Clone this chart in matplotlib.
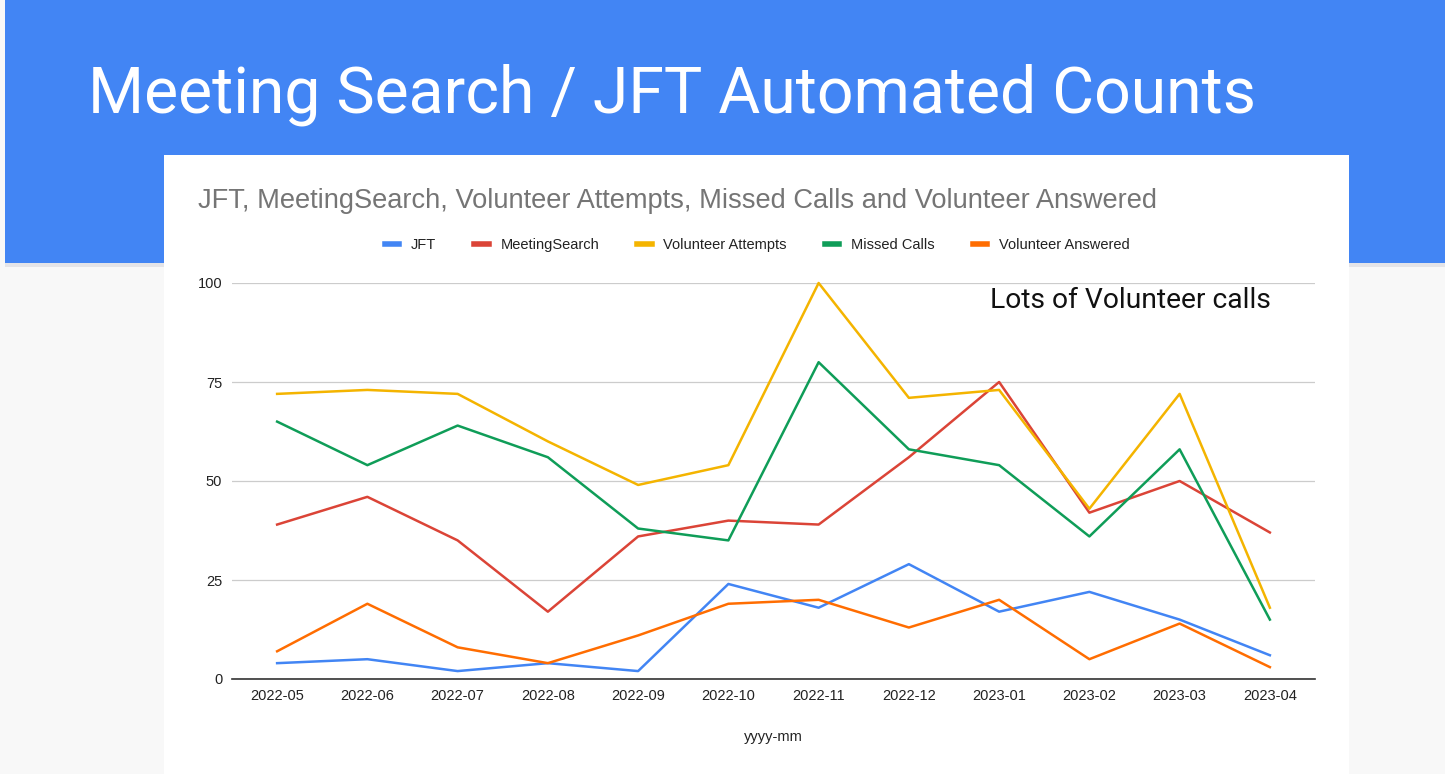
import matplotlib.pyplot as plt
from matplotlib.patches import Rectangle

months = ["2022-05", "2022-06", "2022-07", "2022-08", "2022-09", "2022-10",
          "2022-11", "2022-12", "2023-01", "2023-02", "2023-03", "2023-04"]
jft = [4, 5, 2, 4, 2, 24, 18, 29, 17, 22, 15, 6]
meeting_search = [39, 46, 35, 17, 36, 40, 39, 56, 75, 42, 50, 37]
volunteer_attempts = [72, 73, 72, 60, 49, 54, 100, 71, 73, 43, 72, 18]
missed_calls = [65, 54, 64, 56, 38, 35, 80, 58, 54, 36, 58, 15]
volunteer_answered = [7, 19, 8, 4, 11, 19, 20, 13, 20, 5, 14, 3]
yticks = [0, 25, 50, 75, 100]

series = [
    ("JFT", jft, "#4285f4"),
    ("MeetingSearch", meeting_search, "#db4437"),
    ("Volunteer Attempts", volunteer_attempts, "#f4b400"),
    ("Missed Calls", missed_calls, "#0f9d58"),
    ("Volunteer Answered", volunteer_answered, "#ff6d01"),
]

W, H = 1452, 774
fig = plt.figure(figsize=(W / 100, H / 100), dpi=100)
fig.patch.set_facecolor("#f8f8f8")

def px(x, y, w, h):
    return (x / W, 1 - (y + h) / H, w / W, h / H)

# blue header band
bx, by, bw, bh = px(5, 0, 1440, 263)
fig.patches.append(Rectangle((bx, by), bw, bh, transform=fig.transFigure,
                             facecolor="#4285f4", edgecolor="none", zorder=0))
# subtle shadow under band
sx, sy, sw, sh = px(5, 263, 1440, 4)
fig.patches.append(Rectangle((sx, sy), sw, sh, transform=fig.transFigure,
                             facecolor="#e4e4e8", edgecolor="none", zorder=0))
# right white strip
rx, ry, rw, rh = px(1445, 0, 7, 774)
fig.patches.append(Rectangle((rx, ry), rw, rh, transform=fig.transFigure,
                             facecolor="white", edgecolor="none", zorder=0))
# white chart panel
cx, cy, cw, ch = px(164, 155, 1185, 619)
fig.patches.append(Rectangle((cx, cy), cw, ch, transform=fig.transFigure,
                             facecolor="white", edgecolor="none", zorder=1))

fig.text(88 / W, 1 - 113 / H, "Meeting Search / JFT Automated Counts",
         color="white", fontsize=46.4, family="Roboto", va="baseline", ha="left")

fig.text(198 / W, 1 - 201 / H,
         "JFT, MeetingSearch, Volunteer Attempts, Missed Calls and Volunteer Answered",
         color="#757575", fontsize=19.6, family="Liberation Sans", va="center", ha="left")

ax = fig.add_axes([232 / W, 1 - 679 / H, (1315 - 232) / W, (679 - 283) / H])
ax.set_facecolor("none")
ax.set_zorder(2)
x = list(range(len(months)))
for name, vals, col in series:
    ax.plot(x, vals, color=col, lw=1.8, label=name, clip_on=False, zorder=3)

ax.set_xlim(-0.5, len(months) - 0.5)
ax.set_ylim(0, 100)
ax.set_yticks(yticks)
ax.set_xticks(x)
ax.set_xticklabels(months)
for s in ["top", "right", "left"]:
    ax.spines[s].set_visible(False)
ax.spines["bottom"].set_color("#333333")
ax.spines["bottom"].set_linewidth(1.2)
ax.spines["bottom"].set_zorder(4)
ax.grid(axis="y", color="#cccccc", lw=0.9)
ax.set_axisbelow(True)
ax.tick_params(axis="both", length=0, labelsize=10.5, colors="#222222")
ax.tick_params(axis="y", pad=7)
ax.tick_params(axis="x", pad=7)
for lab in ax.get_xticklabels() + ax.get_yticklabels():
    lab.set_family("Liberation Sans")
ax.set_xlabel("yyyy-mm", fontsize=10.5, color="#222222", family="Liberation Sans", labelpad=20)

leg = ax.legend(loc="lower center", bbox_to_anchor=(0.485, 1.045), ncol=5, frameon=False,
                prop={"family": "Liberation Sans", "size": 10.5}, handlelength=1.0,
                handletextpad=0.8, columnspacing=2.6)
for t in leg.get_texts():
    t.set_color("#222222")
for h in leg.legend_handles:
    h.set_linewidth(4)

fig.text(990 / W, 1 - 300 / H, "Lots of Volunteer calls", color="#111111",
         fontsize=20.3, family="Roboto", va="center", ha="left", zorder=5)

fig.savefig("out.png", dpi=100, facecolor=fig.get_facecolor())
